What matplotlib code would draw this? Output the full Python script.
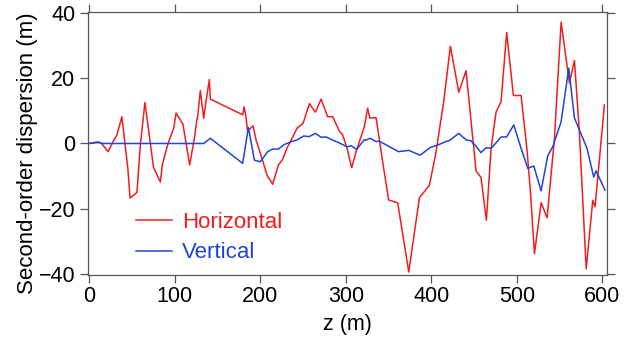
import matplotlib
matplotlib.use("Agg")
import matplotlib.pyplot as plt

# second-order dispersion along the beamline
z_h = [0, 9.8, 13.7, 22, 28.5, 32, 38, 45, 47.6, 55.7, 59.6, 65, 75, 83, 85.4, 92,
       98.7, 101.4, 109.5, 117.3, 122.8, 126, 126.5, 129.8, 133.7, 136.8, 140.3, 141.5,
       179.3, 181, 183.3, 185, 191.5, 195, 200, 207.8, 214.4, 221, 225.7, 231, 243, 250,
       257.3, 264.3, 271, 278.7, 284.6, 292.4, 296.3, 301.4, 306.8, 311.9, 321.6, 325.5,
       327.9, 335.3, 343, 350, 360.6, 373.5, 386, 397.7, 405.5, 414.4, 422.2, 432, 440.5,
       452.2, 458, 464.3, 469.8, 475.6, 481.5, 488, 495.9, 504.9, 512, 515.8, 520.5,
       528.3, 535.3, 543.9, 551.7, 561.4, 567.3, 573, 581, 588.7, 591.4, 602.3]
d_h = [0, 0.5, 0.2, -2.5, 1, 2.4, 8.2, -7.6, -16.7, -15, -0.5, 12.6, -7.3, -11.8, -6.4, 0,
       4.7, 9.3, 5.9, -6.6, 1.6, 7.7, 7.8, 16.2, 7.7, 13.6, 19.6, 13.6,
       8.8, 11.2, 7.8, 3.8, 5.4, 1, -3, -9.7, -12.5, -6.6, -5, -1.5, 4.7, 6.2,
       12.2, 9.6, 13.6, 8.2, 8.2, 3.8, 2.6, -1.5, -7.4, -2.5, 5.2, 10.8,
       7.8, 7.9, -5.6, -17.3, -18.2, -39.4, -16.6, -12.8, -2.5, 12.9, 29.8, 15.7, 22.3,
       -8.4, -10.4, -23.5, -1.5, 9.6, 12.9, 34, 14.7, 14.7, -2.5, -14.8, -33.8,
       -18.1, -22.8, 1.6, 37.2, 18.5, 25.4, 3.6, -38.4, -17.4, -19.4, 11.8]

z_v = [0, 10, 15, 133.7, 141.5, 179.3, 186, 193, 200, 208.5, 214.4, 221, 228, 236.7,
       243, 250.7, 257, 264.3, 271, 277, 286.5, 290.4, 301.4, 306, 312.6, 321.6, 323,
       328.3, 335.3, 339, 349, 361.4, 373.5, 386.7, 398.8, 408, 417, 421, 432, 440.6,
       446.4, 452, 458, 464, 469.8, 475.6, 481.5, 488, 496.3, 504.9, 512.7, 519.7, 528.3,
       536, 541.9, 551.7, 560.6, 567.3, 573, 582, 589.8, 592.6, 603]
d_v = [0, 0.3, 0, 0, 1.6, -6.1, 4.9, -5.1, -5.6, -2.5, -1.7, -1.7, -0.3, 0.6,
       1.1, 2.3, 2.1, 3.1, 1.9, 2, 0.8, 0.4, -1, -0.7, -1.8, 1.2, 1,
       1.6, 0.6, 0.7, -0.7, -2.5, -2.1, -3.6, -1.2, -0.4, 0.6, 0.9, 3.1, 1.1,
       0.8, -0.8, -2.8, -1.3, -1.5, 0.2, 2, 2, 5.7, -1.5, -7.6, -6.9, -14.5,
       -3.8, -1, 6.7, 23.1, 7.8, 4.2, -1.5, -10.3, -8.4, -14.3]

x_ticks = [0, 100, 200, 300, 400, 500, 600]
y_ticks = [-40, -20, 0, 20, 40]

plt.rcParams['font.family'] = ['Liberation Sans', 'DejaVu Sans']

fig = plt.figure(figsize=(6.41, 3.39), dpi=100)
ax = fig.add_axes([0.1378, 0.1897, 0.8087, 0.775])

ax.plot(z_h, d_h, color='#f01e1e', lw=1.1, label='Horizontal')
ax.plot(z_v, d_v, color='#1f45d6', lw=1.1, label='Vertical')

ax.set_xlim(-1.2, 605)
ax.set_ylim(-40.2, 40.3)
ax.set_xticks(x_ticks)
ax.set_yticks(y_ticks)
ax.tick_params(direction='out', length=6, width=0.9, labelsize=15.5,
               top=True, right=True, color='#555555')
ax.tick_params(axis='x', pad=2.5)
ax.tick_params(axis='y', pad=3.5)
for s in ax.spines.values():
    s.set_color('#555555')
    s.set_linewidth(0.9)
ax.set_xlabel('z (m)', fontsize=15.5, labelpad=5)
ax.set_ylabel('Second-order dispersion (m)', fontsize=16)
ax.yaxis.set_label_coords(-0.097, 0.463)

leg = ax.legend(loc='center left', bbox_to_anchor=(0.091, 0.141), frameon=False,
                fontsize=16, handlelength=1.65, handletextpad=0.45, labelspacing=0.42,
                borderpad=0, borderaxespad=0, labelcolor='linecolor')

fig.savefig('out.png', dpi=100)
